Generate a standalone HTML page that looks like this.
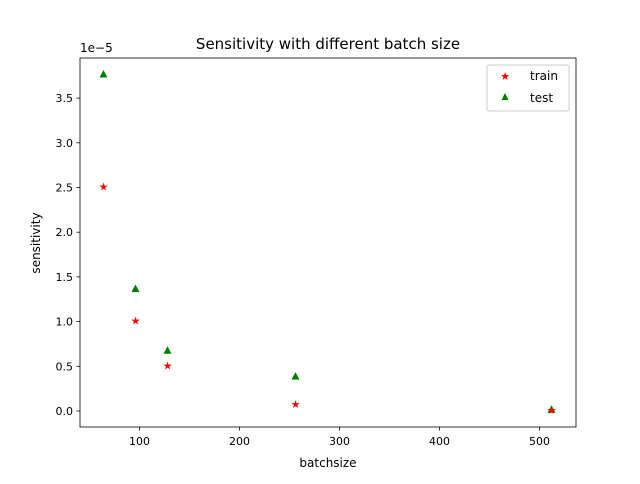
<!DOCTYPE html>
<html><head><meta charset="utf-8"><style>
body{margin:0;background:#fff;font-family:"DejaVu Sans","Liberation Sans",sans-serif;}
svg text{font-family:"DejaVu Sans","Liberation Sans",sans-serif;}
</style></head><body>
<svg id="chart" width="640" height="480" xmlns="http://www.w3.org/2000/svg">
<rect width="640" height="480" fill="#fff"/>
<text x="328" y="49" font-size="15" text-anchor="middle">Sensitivity with different batch size</text>
<g id="marks"></g>
<rect x="80" y="58" width="496" height="369" fill="none" stroke="#000" stroke-width="0.8"/>
<g id="xticks"></g><g id="yticks"></g>
<text x="328" y="467" font-size="12" text-anchor="middle">batchsize</text>
<text x="40" y="243" font-size="12" text-anchor="middle" transform="rotate(-90 40 243)">sensitivity</text>
<text x="80" y="52" font-size="12">1e−5</text>
<g>
<rect x="487" y="65" width="82" height="46" rx="2" fill="#fff" stroke="#ccc"/>
<text x="505" y="80" font-size="11" fill="red" text-anchor="middle">★</text>
<text x="530" y="80" font-size="12">train</text>
<polygon points="505,93 508.5,100 501.5,100" fill="green"/>
<text x="530" y="102" font-size="12">test</text>
</g>
</svg>
<script>
const batchSizes=[64,96,128,256,512];
const trainVals=[2.51,1.01,0.51,0.08,0.01];
const testVals=[3.77,1.37,0.68,0.39,0.02];
const xTicks=[100,200,300,400,500];
const yTicks=[0,0.5,1,1.5,2,2.5,3,3.5];
const NS='http://www.w3.org/2000/svg';
function xs(v){return 39.5+v;}
function ys(v){return 411-v*89.4;}
function el(t,a,p){const e=document.createElementNS(NS,t);for(const k in a)e.setAttribute(k,a[k]);p.appendChild(e);return e;}
const xt=document.getElementById('xticks'),yt=document.getElementById('yticks'),mk=document.getElementById('marks');
xTicks.forEach(v=>{const x=xs(v);
el('line',{x1:x,x2:x,y1:427,y2:430.5,stroke:'#000','stroke-width':0.8},xt);
const t=el('text',{x:x,y:445,'font-size':11,'text-anchor':'middle'},xt);t.textContent=v;

});
yTicks.forEach(v=>{const y=ys(v);
el('line',{x1:76.5,x2:80,y1:y,y2:y,stroke:'#000','stroke-width':0.8},yt);
const t=el('text',{x:73,y:y+4,'font-size':11,'text-anchor':'end'},yt);t.textContent=v.toFixed(1);

});
batchSizes.forEach((b,i)=>{const x=xs(b),y=ys(testVals[i]);
const p=el('polygon',{points:`${x},${y-4} ${x+4},${y+3.5} ${x-4},${y+3.5}`,fill:'green'},mk);

});
batchSizes.forEach((b,i)=>{const x=xs(b),y=ys(trainVals[i]);
const t=el('text',{x:x,y:y+4,'font-size':11,'text-anchor':'middle',fill:'red'},mk);t.textContent='★';

});
</script>
</body></html>
